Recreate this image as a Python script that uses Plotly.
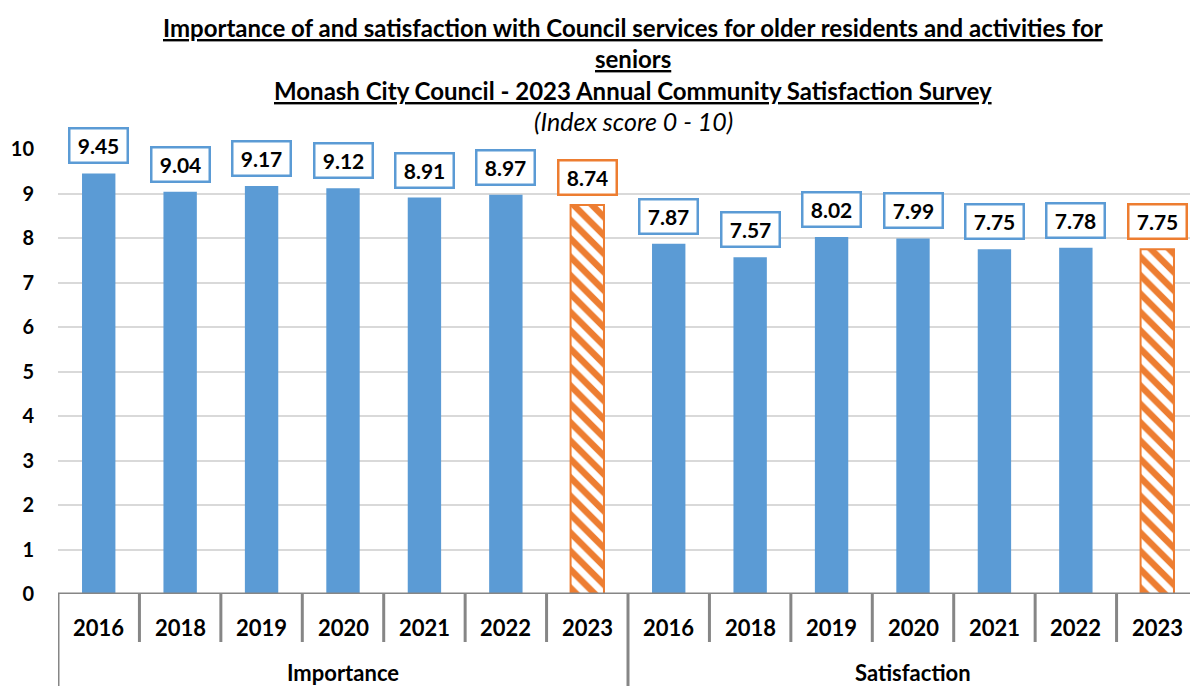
import plotly.graph_objects as go

groups = ["Importance", "Satisfaction"]
years = ["2016", "2018", "2019", "2020", "2021", "2022", "2023"]
importance = [9.45, 9.04, 9.17, 9.12, 8.91, 8.97, 8.74]
satisfaction = [7.87, 7.57, 8.02, 7.99, 7.75, 7.78, 7.75]
y_ticks = list(range(0, 11))

BLUE = "#5B9BD5"
ORANGE = "#ED7D31"
GREY = "#868686"
FONT = "Lato"

values = importance + satisfaction
labels = years + years
n = len(values)
per = len(years)
xs = list(range(n))
is_latest = [lab == years[-1] for lab in labels]

# page body has an 8px margin; compensate so positions match the window
OFF = 8
W, H = 1198 - OFF, 686 - OFF
plot_left, plot_right = 58 - OFF, 1198 - OFF
plot_top, plot_bottom = 149 - OFF, 594 - OFF
ph = plot_bottom - plot_top
pw = plot_right - plot_left


def py(win_y):
    return (plot_bottom - (win_y - OFF)) / ph


def px(win_x):
    return ((win_x - OFF) - plot_left) / pw


fig = go.Figure()
fig.add_trace(go.Bar(
    x=[x for x, c in zip(xs, is_latest) if not c],
    y=[v for v, c in zip(values, is_latest) if not c],
    width=0.41, marker=dict(color=BLUE, line=dict(width=0)),
    hoverinfo="skip", showlegend=False,
))
fig.add_trace(go.Bar(
    x=[x for x, c in zip(xs, is_latest) if c],
    y=[v for v, c in zip(values, is_latest) if c],
    width=0.41,
    marker=dict(color=ORANGE, line=dict(color=ORANGE, width=2),
                pattern=dict(shape="\\", fillmode="replace", bgcolor="white",
                             fgcolor=ORANGE, size=13, solidity=0.5)),
    hoverinfo="skip", showlegend=False,
))

annotations = []
for x, v, c in zip(xs, values, is_latest):
    annotations.append(dict(
        x=x, y=v, xref="x", yref="y", text=f"<b>{v:.2f}</b>",
        showarrow=False, yanchor="bottom", yshift=9,
        font=dict(family=FONT, size=21, color="black"),
        bordercolor=ORANGE if c else BLUE, borderwidth=2.5, borderpad=2,
        bgcolor="white", width=52, height=28,
    ))
    annotations.append(dict(
        x=x, y=py(627), xref="x", yref="paper", text=f"<b>{labels[x]}</b>",
        showarrow=False, yanchor="middle",
        font=dict(family=FONT, size=22, color="black"),
    ))

for gi, g in enumerate(groups):
    annotations.append(dict(
        x=gi * per + (per - 1) / 2, y=py(672), xref="x", yref="paper",
        text=f"<b>{g}</b>", showarrow=False, yanchor="middle",
        font=dict(family=FONT, size=22, color="black"),
    ))

title_lines = [
    ("<u><b>Importance of and satisfaction with Council services for older residents and activities for</b></u>", 27, 24),
    ("<u><b>seniors</b></u>", 58, 24),
    ("<u><b>Monash City Council - 2023 Annual Community Satisfaction Survey</b></u>", 90, 24),
    ("<i>(Index score 0 - 10)</i>", 121, 25),
]
for t, ywin, fs in title_lines:
    annotations.append(dict(
        x=px(633), y=py(ywin), xref="paper", yref="paper", text=t,
        showarrow=False, font=dict(family=FONT, size=fs, color="black"),
        xanchor="center", yanchor="middle",
    ))

shapes = []
for b in range(n + 1):
    full = (b % per == 0)
    shapes.append(dict(
        type="line", xref="x", yref="paper",
        x0=b - 0.5, x1=b - 0.5, y0=0, y1=(py(700) if full else py(642)),
        line=dict(color=GREY, width=3), layer="above",
    ))
shapes.append(dict(type="line", xref="x", yref="y", x0=-0.5, x1=n - 0.5,
                   y0=0, y1=0, line=dict(color=GREY, width=3), layer="above"))

fig.update_layout(
    width=W, height=H,
    margin=dict(l=plot_left, r=W - plot_right, t=plot_top, b=H - plot_bottom),
    plot_bgcolor="white", paper_bgcolor="white",
    annotations=annotations, shapes=shapes, barmode="overlay",
    xaxis=dict(range=[-0.5, n - 0.5], showticklabels=False, showgrid=False,
               zeroline=False, showline=False, fixedrange=True),
    yaxis=dict(range=[0, 10], tickvals=y_ticks,
               ticktext=[f"<b>{t}</b>" for t in y_ticks],
               tickfont=dict(family=FONT, size=20, color="black"),
               showgrid=True, gridcolor="#D9D9D9", gridwidth=1.5,
               zeroline=False, showline=False, ticks="", ticklabelstandoff=23),
)

fig.write_html("out.html")
